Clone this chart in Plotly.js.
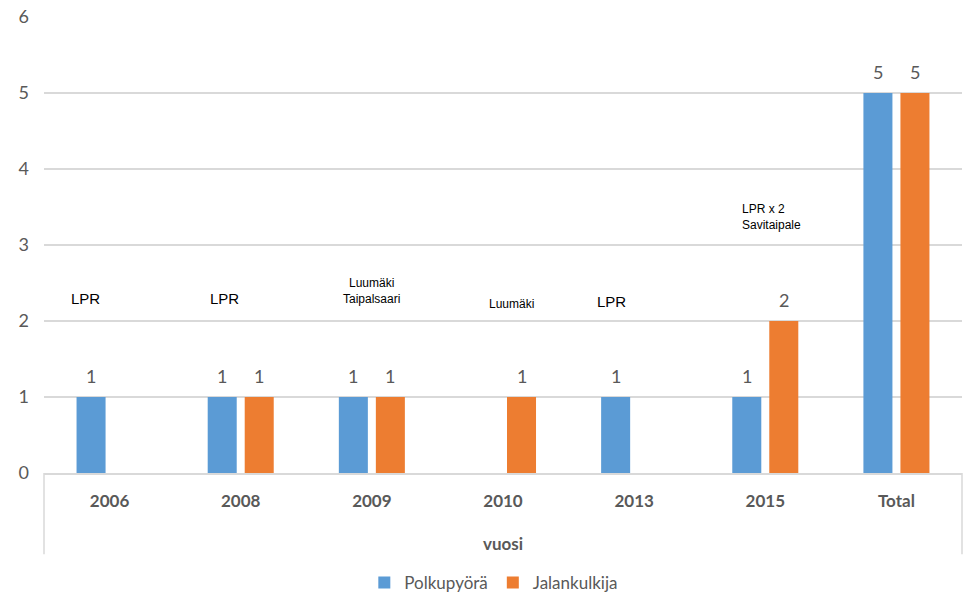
<!DOCTYPE html>
<html>
<head>
<meta charset="utf-8">
<script src="https://cdn.plot.ly/plotly-3.0.1.min.js"></script>
<style>html,body{margin:0;padding:0;background:#fff;}#chart{width:967px;height:595px;}</style>
</head>
<body>
<div id="chart"></div>
<script>
const categories = ['2006', '2008', '2009', '2010', '2013', '2015', 'Total'];
const polkupyora = [1, 1, 1, null, 1, 1, 5];
const jalankulkija = [null, 1, 1, 1, null, 2, 5];
const seriesNames = ['Polkupyörä', 'Jalankulkija'];
const noteCategories = ['2006', '2008', '2009', '2010', '2013', '2015'];
const noteTexts = ['LPR', 'LPR', 'Luumäki<br>Taipalsaari', 'Luumäki', 'LPR', 'LPR x 2<br>Savitaipale'];

const colors = ['#5B9BD5', '#ED7D31'];
const gray = '#595959';
const baseFont = 'Lato, "Open Sans", sans-serif';

const traces = [polkupyora, jalankulkija].map((vals, k) => ({
  type: 'bar',
  name: seriesNames[k],
  x: categories,
  y: vals,
  marker: {color: colors[k]},
  hoverinfo: 'x+y+name'
}));

const annotations = [];
// data labels (category axis: annotation x given as the category's index)
[polkupyora, jalankulkija].forEach((vals, k) => {
  vals.forEach((v, i) => {
    if (v === null) return;
    annotations.push({
      x: i, y: v, xref: 'x', yref: 'y',
      text: String(v), showarrow: false,
      xshift: k === 0 ? -18.5 : 18.5, yshift: 21, yanchor: 'middle',
      font: {family: baseFont, size: 18, color: gray}
    });
  });
});

// note styles (positions) per note index
const noteStyle = [
  {y: 2.30, xshift: -24, size: 15},
  {y: 2.30, xshift: -16, size: 15},
  {y: 2.40, xshift: 0, size: 12},
  {y: 2.22, xshift: 8, size: 12},
  {y: 2.26, xshift: -23, size: 15},
  {y: 3.37, xshift: -25, size: 12, left: true}
];
noteTexts.forEach((t, i) => {
  const s = noteStyle[i];
  annotations.push({
    x: categories.indexOf(noteCategories[i]), y: s.y, xref: 'x', yref: 'y',
    text: t, showarrow: false,
    xshift: s.xshift, yanchor: 'middle',
    xanchor: s.left ? 'left' : 'center', align: s.left ? 'left' : 'center',
    font: {family: 'Liberation Sans, Arial, sans-serif', size: s.size, color: '#000'}
  });
});

const layout = {
  width: 967, height: 595,
  margin: {l: 44, r: 5, t: 17, b: 122, autoexpand: false},
  paper_bgcolor: '#fff', plot_bgcolor: '#fff',
  barmode: 'group',
  bargap: 0.4355,
  bargroupgap: 0.216,
  showlegend: true,
  legend: {
    orientation: 'h', x: 0.49, xanchor: 'center', y: -0.241, yanchor: 'middle',
    font: {family: baseFont, size: 17, color: gray},
    itemwidth: 30, traceorder: 'normal'
  },
  xaxis: {
    type: 'category',
    range: [-0.5, categories.length - 0.5],
    showgrid: false, zeroline: false,
    showline: true, linecolor: '#d9d9d9', linewidth: 1.5,
    ticks: '', ticklabelstandoff: 12,
    tickfont: {family: baseFont, size: 17, color: gray, weight: 'bold'},
    title: {text: 'vuosi', font: {family: baseFont, size: 17, color: gray, weight: 'bold'}, standoff: 28},
    fixedrange: true
  },
  yaxis: {
    range: [0, 6], dtick: 1, tick0: 0,
    showgrid: true, gridcolor: '#d9d9d9', gridwidth: 1.5,
    zeroline: false, showline: false,
    ticks: '', ticklabelstandoff: 14,
    tickfont: {family: baseFont, size: 18, color: gray},
    fixedrange: true
  },
  shapes: [
    {type: 'line', xref: 'paper', yref: 'paper', x0: 0, x1: 0, y0: 0, y1: -0.178, line: {color: '#d9d9d9', width: 1.5}},
    {type: 'line', xref: 'paper', yref: 'paper', x0: 1, x1: 1, y0: 0, y1: -0.178, line: {color: '#d9d9d9', width: 1.5}}
  ],
  annotations: annotations
};

Plotly.newPlot('chart', traces, layout, {displayModeBar: false, responsive: false});
</script>
</body>
</html>
